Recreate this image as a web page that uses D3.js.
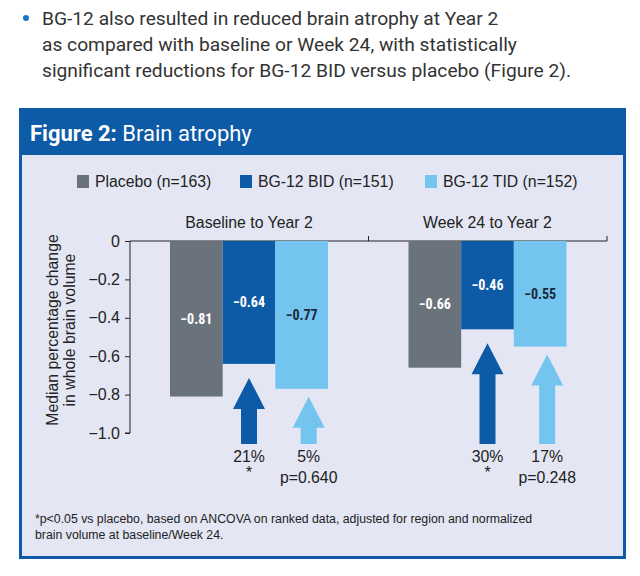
<!DOCTYPE html>
<html><head><meta charset="utf-8">
<script src="https://cdn.jsdelivr.net/npm/d3@7"></script>
<style>body{margin:0;background:#fff}svg{display:block}</style>
</head><body>
<div id="chart"></div>
<script>
const groups = ["Baseline to Year 2", "Week 24 to Year 2"];
const series = ["Placebo (n=163)", "BG-12 BID (n=151)", "BG-12 TID (n=152)"];
const colors = ["#6a737c", "#0d5aa7", "#73c5f0"];
const values = [[-0.81, -0.64, -0.77], [-0.66, -0.46, -0.55]];
const reductions = [["21%", "5%"], ["30%", "17%"]];
const pvalues = [["*", "p=0.640"], ["*", "p=0.248"]];
const yTicks = [0, -0.2, -0.4, -0.6, -0.8, -1.0];

const svg = d3.select("#chart").append("svg").attr("width", 640).attr("height", 576);
const font = "Liberation Sans, Arial, sans-serif";

// bullet text
const bullet = ["BG-12 also resulted in reduced brain atrophy at Year 2",
  "as compared with baseline or Week 24, with statistically",
  "significant reductions for BG-12 BID versus placebo (Figure 2)."];
svg.append("circle").attr("cx", 26).attr("cy", 18).attr("r", 3).attr("fill", "#1a75c8");
svg.selectAll("text.bul").data(bullet).join("text").attr("class", "bul")
  .attr("x", 42).attr("y", (d, i) => 25 + i * 26)
  .attr("font-family", "Roboto, sans-serif").attr("font-size", 19.2).attr("fill", "#333")
  .text(d => d);

// frame
svg.append("rect").attr("x", 19).attr("y", 108).attr("width", 607).attr("height", 451).attr("fill", "#0d5aa7");
svg.append("rect").attr("x", 22).attr("y", 155).attr("width", 601).attr("height", 401).attr("fill", "#e4e6f4");
const title = svg.append("text").attr("x", 30).attr("y", 141).attr("fill", "#fff")
  .attr("font-family", "Roboto, sans-serif").attr("font-size", 22);
title.append("tspan").attr("font-weight", "bold").text("Figure 2: ");
title.append("tspan").text("Brain atrophy");

// legend
const legX = [77, 240, 425];
const leg = svg.selectAll("g.leg").data(series).join("g").attr("class", "leg")
  .attr("transform", (d, i) => `translate(${legX[i]},175)`);
leg.append("rect").attr("width", 12).attr("height", 13).attr("fill", (d, i) => colors[i]);
leg.append("text").attr("x", 18).attr("y", 12).attr("font-family", font).attr("font-size", 15.8)
  .attr("fill", "#222").text(d => d);

// scales
const y = d3.scaleLinear().domain([-1, 0]).range([433, 241]);
const gx = d3.scaleBand().domain(groups).range([130, 607]).paddingInner(0).paddingOuter(0);
const bx = d3.scaleBand().domain(d3.range(3)).range([40, 198]);

const ax = svg.append("g").attr("transform", "translate(130,0)")
  .call(d3.axisLeft(y).tickValues(yTicks).tickSize(5)
    .tickFormat(d => d === 0 ? "0" : d3.format(".1f")(d).replace("-", "\u2212")));
ax.selectAll("text").attr("font-family", font).attr("font-size", 16).attr("fill", "#222").attr("dx", "-2");
ax.selectAll("line, path").attr("stroke", "#222");
ax.select(".domain").attr("d", "M-5,433H0V241");

const xa = svg.append("g").attr("transform", `translate(0,${y(0)})`);
xa.append("line").attr("x1", 130).attr("x2", 607).attr("stroke", "#222");
xa.selectAll("line.t").data([gx.range()[0] + gx.bandwidth(), 607]).join("line")
  .attr("x1", d => d).attr("x2", d => d).attr("y1", 0).attr("y2", -5).attr("stroke", "#222");

svg.append("text").attr("transform", "translate(62,330) rotate(-90)").attr("text-anchor", "middle")
  .attr("font-family", font).attr("font-size", 15.8).attr("fill", "#222")
  .selectAll("tspan").data(["Median percentage change", "in whole brain volume"]).join("tspan")
  .attr("x", 0).attr("dy", (d, i) => i ? 17 : -4).text(d => d);

groups.forEach((g, gi) => {
  const x0 = gx(g);
  svg.append("text").attr("x", x0 + bx(1) + bx.bandwidth() / 2).attr("y", 228)
    .attr("text-anchor", "middle").attr("font-family", font).attr("font-size", 15.8)
    .attr("fill", "#222").text(g);
  values[gi].forEach((v, si) => {
    const bxL = x0 + bx(si), w = bx.bandwidth();
    svg.append("rect").attr("x", bxL).attr("y", y(0)).attr("width", w)
      .attr("height", y(v) - y(0)).attr("fill", colors[si]);
    svg.append("text").attr("x", bxL + w / 2).attr("y", (y(0) + y(v)) / 2 + 5)
      .attr("text-anchor", "middle").attr("font-family", "Roboto Condensed, Roboto, sans-serif")
      .attr("font-weight", "bold").attr("font-size", 14)
      .attr("fill", si === 2 ? "#1b2a3a" : "#fff")
      .text(d3.format(".2f")(v).replace("-", "\u2212"));
    if (si > 0) {
      const cx = bxL + w / 2 + (si === 2 ? 7 : 0);
      const tip = y(v) + (si === 2 ? 8 : 14), base = 444, hb = tip + 31;
      svg.append("path").attr("fill", colors[si])
        .attr("d", `M${cx},${tip}L${cx + 16},${hb}H${cx + 8}V${base}H${cx - 8}V${hb}H${cx - 16}Z`);
      svg.append("text").attr("x", cx).attr("y", 462).attr("text-anchor", "middle")
        .attr("font-family", font).attr("font-size", 15.8).attr("fill", "#222").text(reductions[gi][si - 1]);
      svg.append("text").attr("x", cx).attr("y", pvalues[gi][si - 1] === "*" ? 478 : 483)
        .attr("text-anchor", "middle").attr("font-family", font).attr("font-size", 15.8)
        .attr("fill", "#222").text(pvalues[gi][si - 1]);
    }
  });
});

svg.selectAll("text.fn").data(["*p<0.05 vs placebo, based on ANCOVA on ranked data, adjusted for region and normalized",
  "brain volume at baseline/Week 24."]).join("text").attr("class", "fn")
  .attr("x", 35).attr("y", (d, i) => 523 + i * 16).attr("font-family", font)
  .attr("font-size", 12.3).attr("fill", "#222").text(d => d);
</script>
</body></html>
